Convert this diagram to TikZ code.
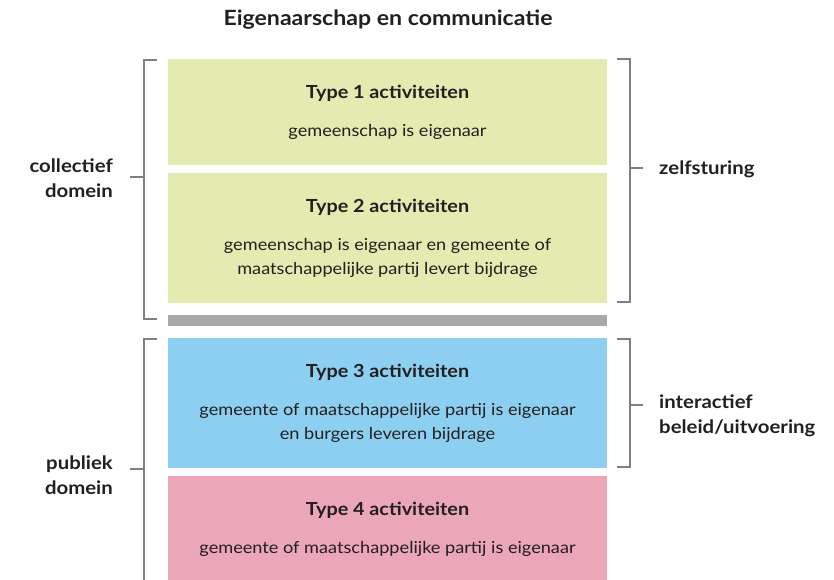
\documentclass[tikz,border=0pt]{standalone}
\usepackage{fontspec}
\setmainfont{Lato}[FakeStretch=1.1]
\definecolor{groen}{HTML}{E3EBB0}
\definecolor{blauw}{HTML}{8DCFF0}
\definecolor{roze}{HTML}{EBA6B8}
\definecolor{balk}{HTML}{A7A8AA}
\definecolor{haak}{HTML}{808080}
\definecolor{tekst}{HTML}{231F20}
\tikzset{
  vak/.style={rectangle, minimum width=439pt, inner sep=0pt, align=center,
    text=tekst, font=\fontsize{16.5}{24}\selectfont},
  zij/.style={text=tekst, font=\fontsize{18.5}{25}\bfseries\selectfont, inner sep=0pt},
  haaklijn/.style={draw=haak, line width=1.4pt}
}
\newcommand{\kop}[1]{{\fontsize{18}{22}\selectfont\bfseries #1}}
\begin{document}
\begin{tikzpicture}[x=1pt, y=-1pt]
  \useasboundingbox (0,0) rectangle (834,580);

  % Titel
  \node[text=tekst, font=\fontsize{21}{24}\bfseries\selectfont] (titel) at (388,20) {Eigenaarschap en communicatie};

  % Vakken
  \node[vak, fill=groen, minimum height=106pt] (t1) at (387.5,112)
    {\kop{Type 1 activiteiten}\\[14pt] gemeenschap is eigenaar};
  \node[vak, fill=groen, minimum height=130pt] (t2) at (387.5,238)
    {\kop{Type 2 activiteiten}\\[14pt] gemeenschap is eigenaar en gemeente of\\ maatschappelijke partij levert bijdrage};
  \node[vak, fill=balk, minimum height=11pt] (scheiding) at (387.5,320.5) {};
  \node[vak, fill=blauw, minimum height=130pt] (t3) at (387.5,403)
    {\kop{Type 3 activiteiten}\\[14pt] gemeente of maatschappelijke partij is eigenaar\\ en burgers leveren bijdrage};
  \node[vak, fill=roze, minimum height=106pt] (t4) at (387.5,529)
    {\kop{Type 4 activiteiten}\\[14pt] gemeente of maatschappelijke partij is eigenaar};

  % Haken links
  \coordinate (l1) at (144,177);
  \coordinate (l2) at (144,469);
  \draw[haaklijn] (157,60) -| (144,319) -- (157,319);
  \draw[haaklijn] (157,339) -| (144,585);
  \draw[haaklijn] (l1) -- ++(-14,0);
  \draw[haaklijn] (l2) -- ++(-14,0);
  \node[zij, align=right, anchor=east] (collectief) at (113,178) {collectief\\domein};
  \node[zij, align=right, anchor=east] (publiek) at (113,475) {publiek\\domein};

  % Haken rechts
  \draw[haaklijn] (617,59) -| (630,302) -- (617,302);
  \draw[haaklijn] (617,339) -| (630,467) -- (617,467);
  \draw[haaklijn] (630,168) -- ++(13,0);
  \draw[haaklijn] (630,405) -- ++(13,0);
  \node[zij, align=left, anchor=west] (zelf) at (659,169) {zelfsturing};
  \node[zij, align=left, anchor=west] (inter) at (659,416) {interactief\\beleid/uitvoering};
\end{tikzpicture}
\end{document}
